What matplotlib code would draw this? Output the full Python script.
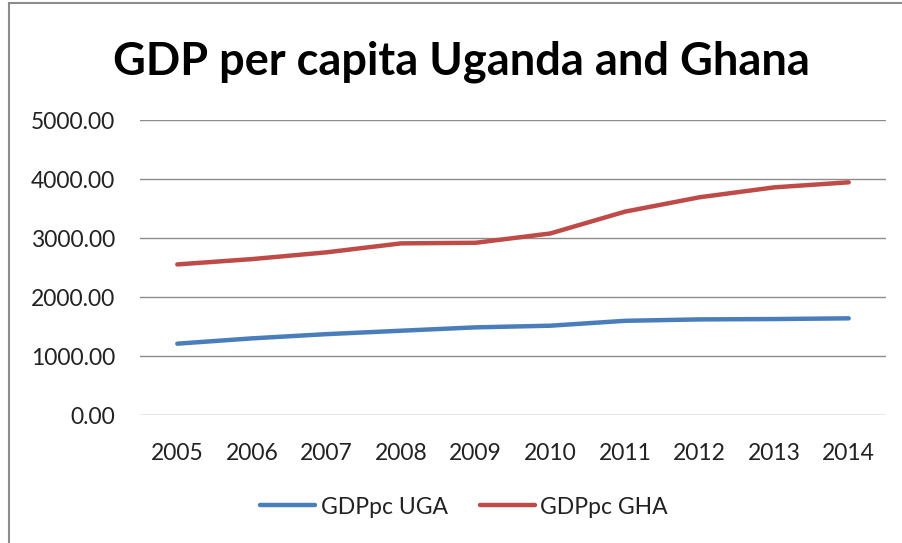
import matplotlib
matplotlib.use("Agg")
import matplotlib.pyplot as plt
from matplotlib.lines import Line2D

years = ["2005", "2006", "2007", "2008", "2009", "2010", "2011", "2012", "2013", "2014"]
gdp_uga = [1210, 1300, 1372, 1430, 1487, 1515, 1598, 1622, 1628, 1640]
gdp_gha = [2555, 2645, 2760, 2912, 2922, 3080, 3450, 3694, 3862, 3948]
y_ticks = [0, 1000, 2000, 3000, 4000, 5000]
title = "GDP per capita Uganda and Ghana"
labels = ["GDPpc UGA", "GDPpc GHA"]
colors = ["#4A7EBB", "#BE4B48"]

plt.rcParams['font.family'] = ['Lato', 'DejaVu Sans']

fig = plt.figure(figsize=(9.03, 5.43), dpi=100)
ax = fig.add_axes([140/903, 1-415/543, (886-140)/903, (415-120.3)/543])

x = list(range(len(years)))
ax.plot(x, gdp_uga, color=colors[0], lw=3.2, solid_capstyle='round', label=labels[0])
ax.plot(x, gdp_gha, color=colors[1], lw=3.2, solid_capstyle='round', label=labels[1])

ax.set_xlim(-0.5, len(years) - 0.5)
ax.set_ylim(0, 5000)
ax.set_yticks(y_ticks)
ax.set_yticklabels([f"{v:.2f}" for v in y_ticks])
ax.set_xticks(x)
ax.set_xticklabels(years)
ax.grid(axis='y', color='#8c8c8c', lw=1)
ax.set_axisbelow(True)
for s in ax.spines.values():
    s.set_visible(False)
ax.tick_params(axis='both', length=0, labelsize=16.5, colors='#222222')
ax.tick_params(axis='y', pad=18)
ax.tick_params(axis='x', pad=20)

fig.text(0.511, 1-62/543, title, ha='center', va='center', fontsize=32.5, fontweight='bold', color='black')

handles = [Line2D([0], [0], color=c, lw=3.2, solid_capstyle='round') for c in colors]
fig.legend(handles, labels, loc='center', bbox_to_anchor=(464/903, 1-507/543), ncol=2,
           frameon=False, fontsize=16.5, handlelength=2.4, handletextpad=0.25, columnspacing=1.4,
           labelcolor='#222222')

# chart border (left and top visible)
fig.add_artist(Line2D([9/903, 9/903], [0, 1-3/543], transform=fig.transFigure, color='#8c8c8c', lw=1.5))
fig.add_artist(Line2D([9/903, 1], [1-3/543, 1-3/543], transform=fig.transFigure, color='#8c8c8c', lw=1.5))

fig.savefig("out.png", dpi=100)
